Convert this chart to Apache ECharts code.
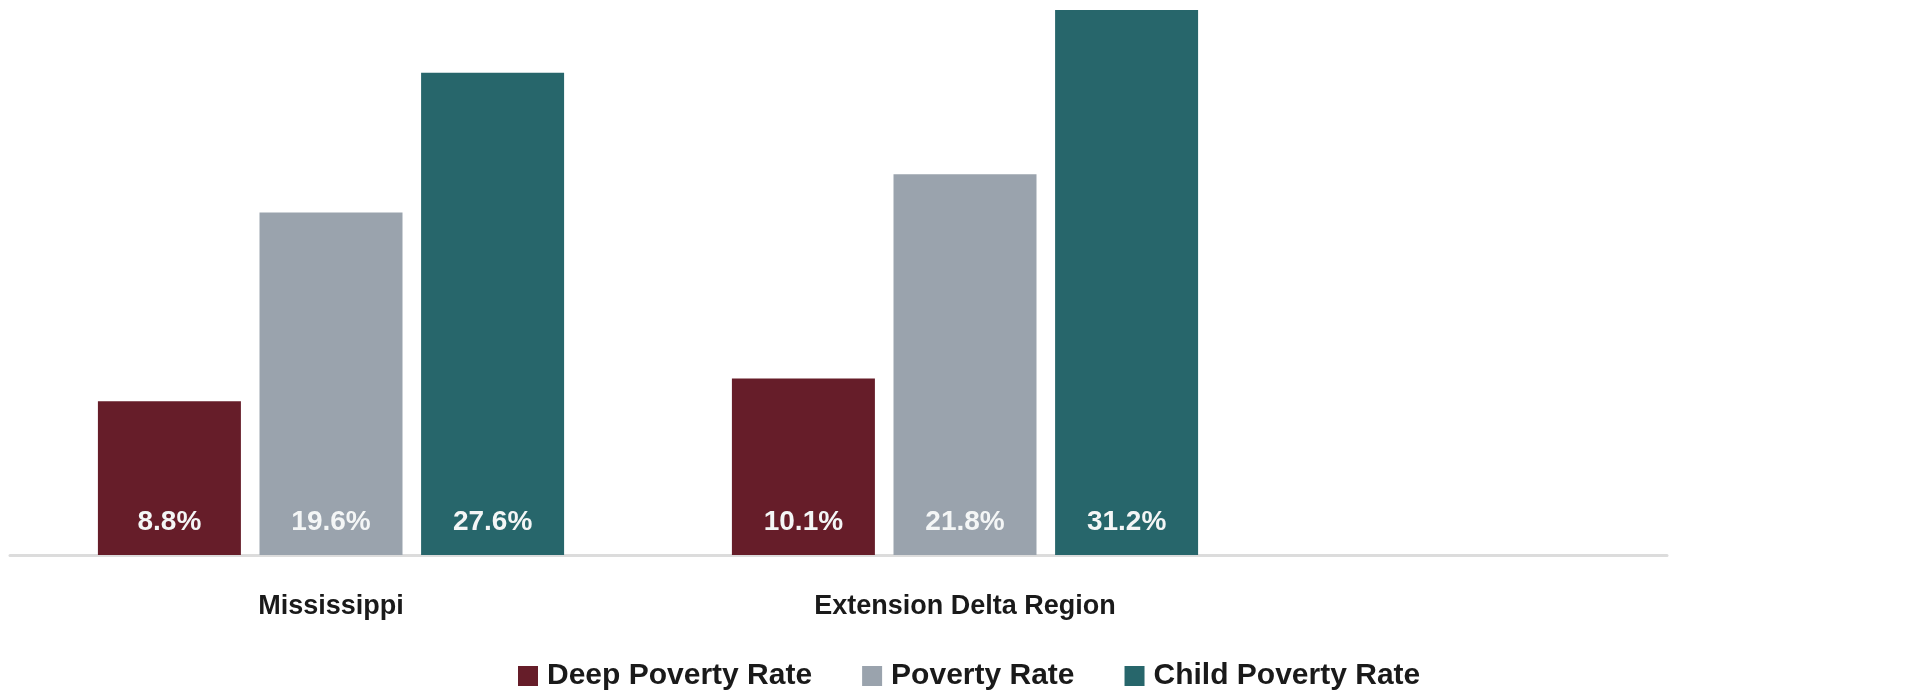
<!DOCTYPE html>
<html>
<head>
<meta charset="utf-8">
<title>Poverty rates</title>
<script src="https://cdn.jsdelivr.net/npm/echarts@6/dist/echarts.min.js"></script>
<style>
    html, body { margin: 0; padding: 0; background: #fff; }
    #chart { width: 1929px; height: 690px; }
</style>
</head>
<body>
<div id="chart"></div>
<script>
// categories (third slot is empty, the chart leaves room on the right)
const regions = ['Mississippi', 'Extension Delta Region', ''];

// series values, in percent
const deepPoverty  = [8.8, 10.1];
const poverty      = [19.6, 21.8];
const childPoverty = [27.6, 31.2];

const seriesNames = ['Deep Poverty Rate', 'Poverty Rate', 'Child Poverty Rate'];
const colors = ['#661d29', '#9aa3ad', '#27666b'];

const FONT = '"Liberation Sans", Arial, sans-serif';

const chart = echarts.init(document.getElementById('chart'));

// one bar series, the label sits inside at the bottom
function makeBar(name, values, color) {
    return {
        name: name,
        type: 'bar',
        xAxisIndex: 0,
        yAxisIndex: 0,
        data: values,
        barWidth: 143,
        barGap: '13%',
        itemStyle: { color: color },
        label: {
            show: true,
            position: 'insideBottom',
            distance: 19,
            color: '#f4f6f6',
            fontFamily: FONT,
            fontWeight: 'bold',
            fontSize: 28,
            formatter: (p) => p.value.toFixed(1) + '%'
        }
    };
}

const option = {
    animation: false,
    backgroundColor: '#ffffff',
    color: colors,
    grid: [
        { left: 14, right: 13, top: 3, bottom: 135 },
        // only used to draw the shorter baseline
        { left: 10, right: 262, top: 3, bottom: 135 }
    ],
    legend: {
        data: seriesNames,
        left: 513,
        top: 656,
        itemWidth: 20,
        itemHeight: 20,
        itemGap: 50,
        icon: 'rect',
        textStyle: {
            fontFamily: FONT,
            fontWeight: 'bold',
            fontSize: 30,
            color: '#1a1a1a',
            padding: [0, 0, 0, 4]
        }
    },
    xAxis: [
        {
            type: 'category',
            gridIndex: 0,
            data: regions,
            axisLine: { show: false },
            axisTick: { show: false },
            axisLabel: {
                margin: 38,
                color: '#1a1a1a',
                fontFamily: FONT,
                fontWeight: 'bold',
                fontSize: 27
            }
        },
        {
            type: 'category',
            gridIndex: 1,
            data: [],
            axisLine: { show: true, lineStyle: { color: '#dcdcdc', width: 3 } },
            axisTick: { show: false },
            axisLabel: { show: false }
        }
    ],
    yAxis: [
        { type: 'value', gridIndex: 0, min: 0, max: 31.6, show: false },
        { type: 'value', gridIndex: 1, min: 0, max: 31.6, show: false }
    ],
    series: [
        makeBar(seriesNames[0], deepPoverty, colors[0]),
        makeBar(seriesNames[1], poverty, colors[1]),
        makeBar(seriesNames[2], childPoverty, colors[2])
    ]
};

chart.setOption(option);
</script>
</body>
</html>
